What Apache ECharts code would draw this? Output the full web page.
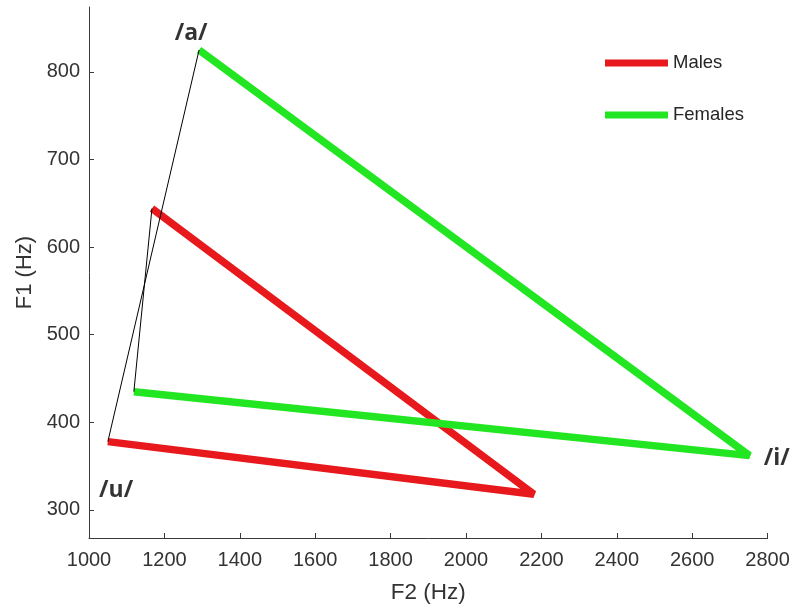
<!DOCTYPE html>
<html>
<head>
<meta charset="utf-8">
<script src="https://cdn.jsdelivr.net/npm/echarts@6/dist/echarts.min.js"></script>
<style>
html,body{margin:0;padding:0;background:#fff;}
#chart{width:795px;height:609px;}
</style>
</head>
<body>
<div id="chart"></div>
<script>
// Vowel triangle vertices: [F2, F1] in Hz, order /a/, /i/, /u/
const malesF2 = [1167, 2180, 1050];
const malesF1 = [644, 318, 378];
const femalesF2 = [1292, 2752, 1119];
const femalesF1 = [825, 362, 435];
// thin black connector segments
const connectA = [[1050, 378], [1292, 825]];
const connectB = [[1119, 435], [1167, 644]];
// vowel labels [F2, F1, text]
const vowelLabels = [[1271, 844, '/a/'], [1072, 322, '/u/'], [2824, 359, '/i/']];
const xTicks = [1000, 1200, 1400, 1600, 1800, 2000, 2200, 2400, 2600, 2800];
const yTicks = [300, 400, 500, 600, 700, 800];

const pts = (xs, ys) => xs.map((x, i) => [x, ys[i]]);

const chart = echarts.init(document.getElementById('chart'), null, {renderer: 'canvas'});
const axisColor = '#3a3a3a';
const textColor = '#333';
const fontFamily = '"Liberation Sans", Arial, sans-serif';

chart.setOption({
  animation: false,
  backgroundColor: '#fff',
  grid: {left: 89, right: 27.4, top: 7, bottom: 69.7, containLabel: false},
  legend: {
    data: ['Males', 'Females'],
    orient: 'vertical',
    left: 605,
    top: 53,
    padding: 0,
    itemWidth: 63,
    itemHeight: 7,
    itemGap: 32,
    icon: 'rect',
    textStyle: {fontSize: 18.5, color: '#262626', fontFamily: fontFamily, lineHeight: 20}
  },
  xAxis: {
    type: 'value',
    min: xTicks[0],
    max: xTicks[xTicks.length - 1],
    interval: 200,
    name: 'F2 (Hz)',
    nameLocation: 'middle',
    nameGap: 43,
    nameTextStyle: {fontSize: 22.5, color: textColor, fontFamily: fontFamily},
    axisLine: {show: true, onZero: false, lineStyle: {color: axisColor, width: 1}},
    axisTick: {show: true, inside: true, length: 5, lineStyle: {color: axisColor}, customValues: xTicks},
    axisLabel: {fontSize: 20, color: textColor, fontFamily: fontFamily, margin: 12, customValues: xTicks,
      formatter: v => String(v)},
    splitLine: {show: false}
  },
  yAxis: {
    type: 'value',
    min: 268,
    max: 874,
    name: 'F1 (Hz)',
    nameLocation: 'middle',
    nameGap: 45,
    nameRotate: 90,
    nameTextStyle: {fontSize: 22, color: textColor, fontFamily: fontFamily},
    axisLine: {show: true, onZero: false, lineStyle: {color: axisColor, width: 1}},
    axisTick: {show: true, inside: true, length: 5, lineStyle: {color: axisColor}, customValues: yTicks},
    axisLabel: {fontSize: 20, color: textColor, fontFamily: fontFamily, margin: 9, customValues: yTicks,
      formatter: v => String(v)},
    splitLine: {show: false}
  },
  series: [
    {
      name: 'Males', type: 'line', data: pts(malesF2, malesF1),
      symbol: 'none', color: '#e8191c',
      lineStyle: {width: 7.5, color: '#e8191c'}, z: 2
    },
    {
      name: 'Females', type: 'line', data: pts(femalesF2, femalesF1),
      symbol: 'none', color: '#22e622',
      lineStyle: {width: 7.5, color: '#22e622'}, z: 2
    },
    {
      name: 'connA', type: 'line', data: connectA, symbol: 'none',
      lineStyle: {width: 1, color: '#000'}, z: 3
    },
    {
      name: 'connB', type: 'line', data: connectB, symbol: 'none',
      lineStyle: {width: 1, color: '#000'}, z: 3
    },
    {
      name: 'labels', type: 'scatter', symbolSize: 0, clip: false, silent: true,
      data: vowelLabels.map(d => ({value: [d[0], d[1]], label: {formatter: d[2]}})),
      label: {
        show: true, position: 'inside',
        fontFamily: '"Open Sans", sans-serif', fontWeight: 'bold', fontSize: 23, color: '#000'
      },
      z: 4
    }
  ]
});
</script>
</body>
</html>
